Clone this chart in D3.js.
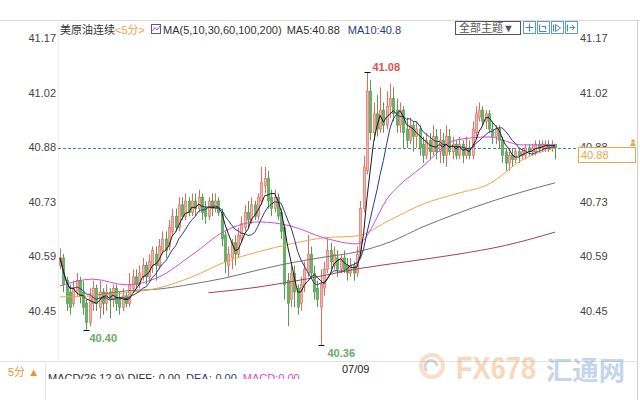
<!DOCTYPE html>
<html><head><meta charset="utf-8">
<script src="https://cdn.jsdelivr.net/npm/d3@7"></script>
<style>
body{margin:0;background:#fff;}
svg{display:block;font-family:"Liberation Sans","Noto Sans CJK SC",Arial,sans-serif;}
</style>
</head><body><svg id="c" width="640" height="400"></svg>
<script>
// ---- data ----
const candleOpen = [
40.57,40.59,40.53,40.50,40.47,40.50,40.53,40.50,40.47,40.42,
40.47,40.51,40.46,40.50,40.47,40.50,40.48,40.51,40.48,40.46,
40.49,40.47,40.51,40.54,40.52,40.54,40.57,40.54,40.57,40.60,
40.57,40.61,40.64,40.62,40.66,40.70,40.67,40.73,40.70,40.74,
40.71,40.74,40.72,40.75,40.72,40.70,40.74,40.72,40.74,40.71,
40.65,40.57,40.59,40.63,40.60,40.64,40.67,40.71,40.69,40.73,
40.70,40.74,40.78,40.80,40.75,40.72,40.75,40.71,40.67,40.53,
40.48,40.55,40.51,40.47,40.52,40.55,40.60,40.55,40.51,40.46,
40.51,40.56,40.61,40.57,40.59,40.56,40.59,40.57,40.55,40.57,
40.55,40.60,40.72,40.82,41.03,40.92,40.97,40.93,40.98,40.94,
40.99,41.01,40.98,40.94,40.98,40.93,40.90,40.94,40.91,40.93,
40.89,40.86,40.90,40.87,40.91,40.87,40.90,40.86,40.91,40.87,
40.89,40.86,40.89,40.86,40.88,40.86,40.92,40.96,40.98,40.95,
40.97,40.93,40.91,40.93,40.90,40.87,40.84,40.86,40.85,40.87,
40.86,40.86,40.88,40.87,40.87,40.89,40.88,40.88,40.89,40.88,40.89];
const candleClose = [
40.59,40.52,40.47,40.46,40.51,40.53,40.49,40.46,40.42,40.49,
40.51,40.47,40.50,40.47,40.50,40.48,40.51,40.47,40.46,40.49,
40.47,40.52,40.54,40.52,40.55,40.57,40.54,40.58,40.61,40.57,
40.62,40.64,40.61,40.67,40.70,40.67,40.73,40.70,40.74,40.71,
40.74,40.72,40.75,40.71,40.70,40.74,40.72,40.74,40.71,40.64,
40.58,40.60,40.63,40.60,40.65,40.68,40.71,40.69,40.73,40.70,
40.75,40.79,40.80,40.74,40.72,40.75,40.70,40.66,40.52,40.47,
40.55,40.50,40.46,40.52,40.56,40.60,40.55,40.50,40.48,40.52,
40.56,40.61,40.58,40.60,40.56,40.59,40.56,40.55,40.57,40.55,
40.60,40.72,40.83,41.03,40.92,40.97,40.93,40.98,40.94,40.99,
41.01,40.97,40.94,40.98,40.92,40.90,40.94,40.91,40.93,40.88,
40.86,40.90,40.87,40.91,40.87,40.90,40.86,40.91,40.87,40.89,
40.86,40.89,40.86,40.88,40.86,40.93,40.97,40.98,40.95,40.97,
40.93,40.91,40.93,40.90,40.86,40.84,40.86,40.85,40.87,40.86,
40.87,40.88,40.87,40.88,40.89,40.88,40.89,40.89,40.88,40.89,40.88];
const candleHigh = [
40.615,40.60,40.54,40.52,40.53,40.55,40.54,40.53,40.48,40.51,
40.53,40.52,40.53,40.51,40.52,40.51,40.52,40.52,40.50,40.51,
40.50,40.55,40.56,40.56,40.57,40.59,40.58,40.60,40.62,40.62,
40.64,40.66,40.66,40.69,40.72,40.72,40.75,40.75,40.76,40.75,
40.76,40.76,40.77,40.76,40.74,40.75,40.76,40.76,40.75,40.72,
40.66,40.62,40.64,40.65,40.67,40.70,40.73,40.74,40.75,40.74,
40.76,40.83,40.83,40.82,40.77,40.77,40.76,40.72,40.68,40.55,
40.57,40.57,40.52,40.54,40.58,40.65,40.62,40.57,40.53,40.56,
40.58,40.64,40.63,40.62,40.61,40.60,40.61,40.59,40.59,40.58,
40.62,40.74,40.86,41.08,41.06,41.00,41.02,41.04,41.00,41.03,
41.05,41.04,41.01,41.00,40.99,40.96,40.96,40.95,40.95,40.94,
40.91,40.92,40.92,40.94,40.93,40.93,40.92,40.94,40.93,40.91,
40.90,40.91,40.90,40.91,40.90,40.95,40.99,41.00,40.99,40.98,
40.98,40.95,40.94,40.94,40.91,40.88,40.87,40.88,40.88,40.88,
40.88,40.89,40.89,40.89,40.90,40.90,40.90,40.90,40.90,40.90,40.89];
const candleLow = [
40.56,40.50,40.45,40.44,40.46,40.49,40.47,40.44,40.40,40.41,
40.45,40.45,40.43,40.44,40.45,40.43,40.46,40.45,40.44,40.45,
40.46,40.46,40.50,40.51,40.51,40.53,40.52,40.53,40.55,40.53,
40.56,40.60,40.59,40.61,40.65,40.66,40.66,40.69,40.69,40.70,
40.70,40.70,40.71,40.69,40.68,40.69,40.70,40.71,40.70,40.62,
40.55,40.54,40.56,40.57,40.59,40.63,40.66,40.67,40.68,40.69,
40.69,40.73,40.76,40.72,40.70,40.71,40.69,40.64,40.48,40.41,
40.46,40.46,40.44,40.45,40.50,40.54,40.54,40.48,40.46,40.36,
40.49,40.55,40.56,40.56,40.54,40.55,40.55,40.53,40.54,40.53,
40.54,40.59,40.71,40.81,40.90,40.90,40.91,40.92,40.92,40.93,
40.96,40.95,40.92,40.92,40.88,40.88,40.89,40.87,40.88,40.86,
40.84,40.85,40.85,40.86,40.85,40.84,40.84,40.83,40.86,40.85,
40.85,40.85,40.84,40.85,40.85,40.85,40.91,40.95,40.94,40.93,
40.92,40.89,40.89,40.88,40.84,40.82,40.82,40.83,40.84,40.84,
40.85,40.85,40.86,40.86,40.86,40.87,40.87,40.87,40.87,40.87,40.85];

const maIdx   = [0,10,20,30,40,50,60,70,80,90,100,110,120,130,140,150];
const ma30    = [40.516,40.534,40.519,40.540,40.598,40.661,40.685,40.674,40.643,40.627,40.756,40.832,40.901,40.909,40.888,40.888];
const ma60    = [40.487,40.490,40.498,40.511,40.540,40.579,40.606,40.627,40.643,40.648,40.690,40.732,40.759,40.785,40.848,40.880];
const ma100Idx = [10,20,30,40,50,60,70,80,90,100,110,120,130,140,150];
const ma100   = [40.490,40.503,40.508,40.521,40.537,40.558,40.577,40.592,40.606,40.632,40.672,40.706,40.737,40.764,40.788];
const ma200Idx = [45,60,75,90,105,120,135,150];
const ma200   = [40.498,40.513,40.535,40.561,40.580,40.599,40.623,40.658];

const tickVals   = [41.17, 41.026, 40.882, 40.738, 40.594, 40.45];
const tickLabels = ["41.17","41.02","40.88","40.73","40.59","40.45"];
const dateIdx    = [89];
const dateLabels = ["07/09"];
const markIdx    = [93, 8, 79];
const markType   = ["high","low","low"];
const currentPrice = 40.88;

// ---- chart ----
const svg = d3.select("#c");
const x = d3.scaleLinear().domain([0,150]).range([60,555]);
const y = d3.scaleLinear().domain([40.45,41.17]).range([311,38]);

// frame
svg.append("line").attr("x1",0).attr("x2",640).attr("y1",20.5).attr("y2",20.5).attr("stroke","#dcdcdc");
svg.append("line").attr("x1",58.5).attr("x2",58.5).attr("y1",20).attr("y2",361).attr("stroke","#eeeeee");
svg.append("line").attr("x1",637.5).attr("x2",637.5).attr("y1",20).attr("y2",400).attr("stroke","#cfcfcf");
svg.append("line").attr("x1",0).attr("x2",637).attr("y1",361.5).attr("y2",361.5).attr("stroke","#e2e2e2");
svg.append("line").attr("x1",45.5).attr("x2",45.5).attr("y1",361).attr("y2",400).attr("stroke","#e2e2e2");

// axes
function styleAxis(g){
  g.select(".domain").remove();
  g.selectAll("text").attr("fill","#444").style("font-size","11px").style("font-family",'"Liberation Sans",Arial,sans-serif');
}
svg.append("g").attr("transform","translate(56,0)")
  .call(d3.axisLeft(y).tickValues(tickVals).tickSize(0).tickPadding(0).tickFormat((d,i)=>tickLabels[i]))
  .call(styleAxis);
svg.append("g").attr("transform","translate(580,0)")
  .call(d3.axisRight(y).tickValues(tickVals).tickSize(0).tickPadding(0).tickFormat((d,i)=>tickLabels[i]))
  .call(styleAxis);

// current price dashed line
svg.append("line").attr("x1",58).attr("x2",632).attr("y1",Math.round(y(currentPrice))+0.5).attr("y2",Math.round(y(currentPrice))+0.5)
  .attr("stroke","#4d7fa6").attr("stroke-dasharray","3,2").attr("stroke-width",1);

// candles
const data = candleOpen.map((o,i)=>({i,o,c:candleClose[i],h:candleHigh[i],l:candleLow[i]}));
const upFill="#f2b3a9", upStroke="#e06b5f", dnFill="#66b566", dnStroke="#4f9f4f";
const cg = svg.append("g");
cg.selectAll("line.w").data(data).join("line")
  .attr("x1",d=>Math.round(x(d.i))+0.5).attr("x2",d=>Math.round(x(d.i))+0.5)
  .attr("y1",d=>y(d.h)).attr("y2",d=>y(d.l))
  .attr("stroke",d=>d.c>=d.o?upStroke:dnStroke).attr("stroke-width",1);
cg.selectAll("rect").data(data).join("rect")
  .attr("x",d=>Math.round(x(d.i))-0.7).attr("width",2.4)
  .attr("y",d=>y(Math.max(d.o,d.c))).attr("height",d=>Math.max(1,Math.abs(y(d.o)-y(d.c))))
  .attr("fill",d=>d.c>=d.o?upFill:dnFill).attr("stroke",d=>d.c>=d.o?upStroke:dnStroke).attr("stroke-width",0.6);

// moving averages
function movingAvg(k){
  return candleClose.map((v,i)=>d3.mean(candleClose.slice(Math.max(0,i-k+1),i+1)));
}
const ma5 = movingAvg(5), ma10 = movingAvg(10);
const lineLin = d3.line().x(d=>x(d[0])).y(d=>y(d[1]));
const lineCurve = d3.line().x(d=>x(d[0])).y(d=>y(d[1])).curve(d3.curveMonotoneX);
const maLines = [
  {pts:ma200Idx.map((k,j)=>[k,ma200[j]]), color:"#a8434c", gen:lineCurve},
  {pts:ma100Idx.map((k,j)=>[k,ma100[j]]), color:"#72727e", gen:lineCurve},
  {pts:maIdx.map((k,j)=>[k,ma60[j]]), color:"#eca648", gen:lineCurve},
  {pts:maIdx.map((k,j)=>[k,ma30[j]]), color:"#d54cd5", gen:lineCurve},
  {pts:ma10.map((v,i)=>[i,v]), color:"#2b3a86", gen:lineLin},
  {pts:ma5.map((v,i)=>[i,v]), color:"#1a1a1a", gen:lineLin}
];
svg.append("g").selectAll("path").data(maLines).join("path")
  .attr("d",d=>d.gen(d.pts)).attr("fill","none").attr("stroke",d=>d.color).attr("stroke-width",1);

// extreme markers
markIdx.forEach((k,j)=>{
  const isHigh = markType[j]==="high";
  const v = isHigh ? candleHigh[k] : candleLow[k];
  const px = Math.round(x(k))+0.5, py = Math.round(y(v))+0.5;
  svg.append("line").attr("x1",px-3).attr("x2",px+3).attr("y1",py).attr("y2",py).attr("stroke","#111");
  svg.append("text").attr("x",px+(isHigh?5:(k<20?3:6))).attr("y",isHigh?py-2:py+11)
    .attr("fill",isHigh?"#d9534f":"#6aaa6a").style("font-size","11px").style("font-weight","bold")
    .text(v.toFixed(2));
});

// header
const hdr = svg.append("text").attr("x",60).attr("y",34).style("font-size","11px");
hdr.append("tspan").attr("fill","#333").text("美原油连续");
hdr.append("tspan").attr("fill","#f0a050").text("<5分>");
svg.append("rect").attr("x",151.5).attr("y",24.5).attr("width",9).attr("height",9).attr("fill","#fff").attr("stroke","#6a4c9c");
svg.append("path").attr("d","M152.5,31 L155,27.5 L157,30 L160,26").attr("fill","none").attr("stroke","#d04c9c");
const hdr2 = svg.append("text").attr("x",163).attr("y",34).style("font-size","11px");
hdr2.append("tspan").attr("fill","#333").text("MA(5,10,30,60,100,200)");
hdr2.append("tspan").attr("fill","#333").attr("dx",5).text("MA5:40.88");
hdr2.append("tspan").attr("fill","#2b3a86").attr("dx",8).text("MA10:40.8");

// theme dropdown + icons
svg.append("rect").attr("x",455.5).attr("y",21.5).attr("width",65).attr("height",13).attr("fill","#fff").attr("stroke","#555");
svg.append("text").attr("x",459).attr("y",32).attr("fill","#555").style("font-size","11px").text("全部主题▼");
[0,1,2,3].forEach(k=>{
  const bx = 523.5 + k*14;
  svg.append("rect").attr("x",bx).attr("y",21.5).attr("width",12).attr("height",12).attr("fill","#fff").attr("stroke","#5c9ad6");
});
svg.append("path").attr("d","M529.5,23.5 V31.5 M525.5,27.5 H533.5").attr("stroke","#3f86d0");
svg.append("path").attr("d","M539.5,24.5 V31.5 H546.5 M541.5,26.5 H545.5 V29.5").attr("fill","none").attr("stroke","#3f86d0");
svg.append("path").attr("d","M553.5,24.5 V31.5 M555.5,24.5 L560.5,28 L555.5,31.5 Z").attr("fill","none").attr("stroke","#3f86d0");
svg.append("path").attr("d","M567.5,24.5 V31.5 M569.5,27.5 H574.5 M572,25 L574.5,27.5 L572,30").attr("fill","none").attr("stroke","#3f86d0");

// current price box (covers lower half of right-axis label, as in the reference)
svg.append("rect").attr("x",578.5).attr("y",147.5).attr("width",57).attr("height",15).attr("fill","#fff").attr("stroke","#eca648");
svg.append("text").attr("x",581).attr("y",159).attr("fill","#eca648").style("font-size","11px").text(currentPrice.toFixed(2));
svg.append("circle").attr("cx",633).attr("cy",141).attr("r",1.8).attr("fill","#eca648");
svg.append("path").attr("d","M630,146 L636,146 L634.5,143 L631.5,143 Z").attr("fill","#eca648");

// date label
dateIdx.forEach((k,j)=>{
  svg.append("text").attr("x",x(k)+2).attr("y",373).attr("text-anchor","middle").attr("fill","#222")
    .style("font-size","11px").text(dateLabels[j]);
});

// bottom panel
svg.append("text").attr("x",8).attr("y",376).attr("fill","#e8952e").style("font-size","11px").text("5分 ▲");
svg.append("clipPath").attr("id","macdclip").append("rect").attr("x",46).attr("y",362).attr("width",400).attr("height",17);
const macd = svg.append("text").attr("x",48).attr("y",382).attr("clip-path","url(#macdclip)").style("font-size","11px");
macd.append("tspan").attr("fill","#333").text("MACD(26,12,9) DIFF:-0.00");
macd.append("tspan").attr("fill","#2b3a86").attr("dx",6).text("DEA:-0.00");
macd.append("tspan").attr("fill","#d54cd5").attr("dx",6).text("MACD:0.00");

// watermark
const wm = svg.append("g").attr("opacity",0.45);
wm.append("circle").attr("cx",432).attr("cy",366).attr("r",11).attr("fill","none").attr("stroke","#f2b98e").attr("stroke-width",4);
wm.append("path").attr("d","M427,371 A6,6 0 1 1 437,366").attr("fill","none").attr("stroke","#9aa6b4").attr("stroke-width",3);
wm.append("text").attr("x",456).attr("y",379).attr("fill","#f3a86c").style("font-size","31px").style("font-weight","bold")
  .attr("textLength",80).attr("lengthAdjust","spacingAndGlyphs").text("FX678");
wm.append("text").attr("x",546).attr("y",380).attr("fill","#7ea4d6").style("font-size","26px").style("font-weight","bold")
  .attr("textLength",79).attr("lengthAdjust","spacingAndGlyphs").text("汇通网");
</script>
</body></html>
